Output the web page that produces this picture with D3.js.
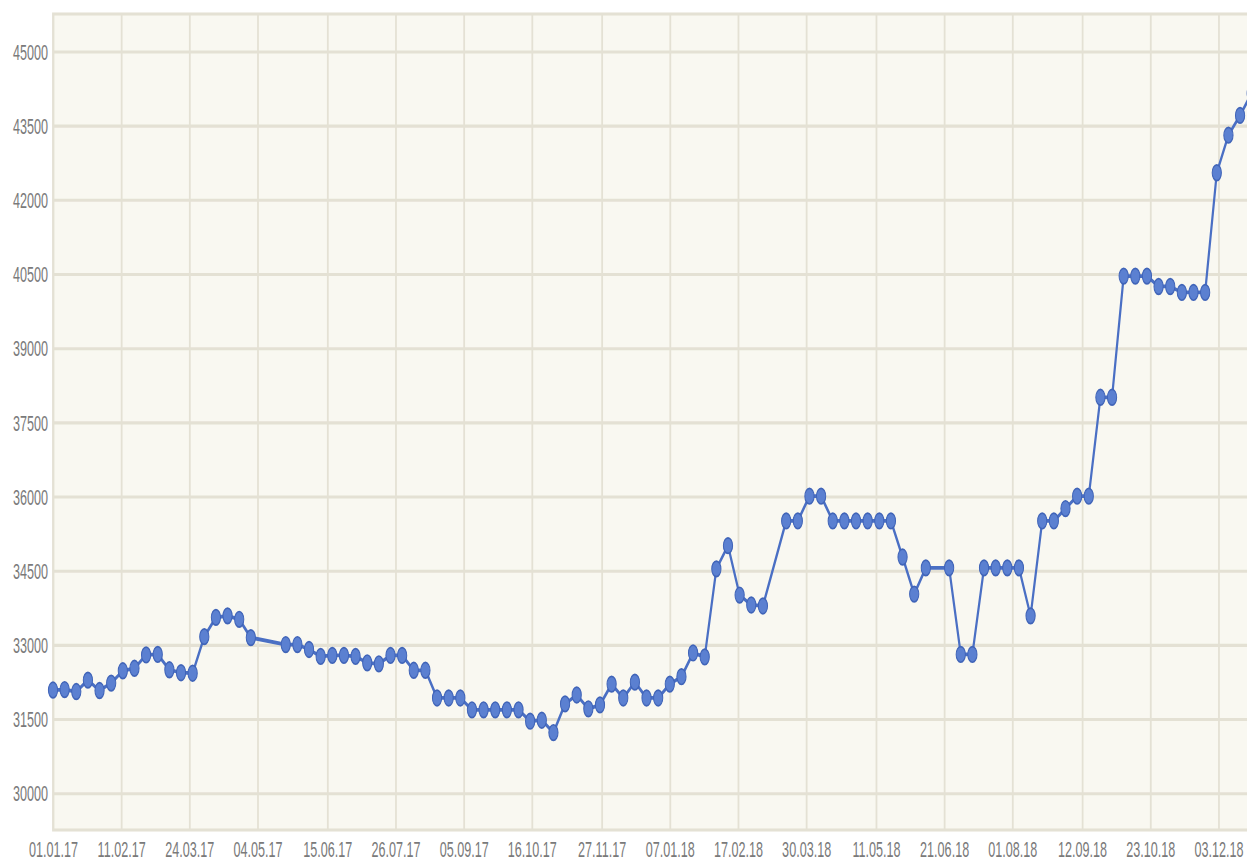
<!DOCTYPE html>
<html>
<head>
<meta charset="utf-8">
<script src="https://cdn.jsdelivr.net/npm/d3@7"></script>
<style>
  html, body { margin: 0; padding: 0; background: #ffffff; }
  svg { display: block; }
  .tick-label { font-family: "Liberation Sans", Arial, sans-serif; font-size: 12.6px; fill: #7a7a7a; }
</style>
</head>
<body>
<div id="chart"></div>
<script>
// weekly observations (dd.mm.yy); a few weeks are absent in the source
var dates = [
    "01.01.17", "08.01.17", "15.01.17", "22.01.17", "29.01.17", "05.02.17", "12.02.17", "19.02.17",
    "26.02.17", "05.03.17", "12.03.17", "19.03.17", "26.03.17", "02.04.17", "09.04.17", "16.04.17",
    "23.04.17", "30.04.17", "21.05.17", "28.05.17", "04.06.17", "11.06.17", "18.06.17", "25.06.17",
    "02.07.17", "09.07.17", "16.07.17", "23.07.17", "30.07.17", "06.08.17", "13.08.17", "20.08.17",
    "27.08.17", "03.09.17", "10.09.17", "17.09.17", "24.09.17", "01.10.17", "08.10.17", "15.10.17",
    "22.10.17", "29.10.17", "05.11.17", "12.11.17", "19.11.17", "26.11.17", "03.12.17", "10.12.17",
    "17.12.17", "24.12.17", "31.12.17", "07.01.18", "14.01.18", "21.01.18", "28.01.18", "04.02.18",
    "11.02.18", "18.02.18", "25.02.18", "04.03.18", "18.03.18", "25.03.18", "01.04.18", "08.04.18",
    "15.04.18", "22.04.18", "29.04.18", "06.05.18", "13.05.18", "20.05.18", "27.05.18", "03.06.18",
    "10.06.18", "24.06.18", "01.07.18", "08.07.18", "15.07.18", "22.07.18", "29.07.18", "05.08.18",
    "12.08.18", "19.08.18", "26.08.18", "02.09.18", "09.09.18", "16.09.18", "23.09.18", "30.09.18",
    "07.10.18", "14.10.18", "21.10.18", "28.10.18", "04.11.18", "11.11.18", "18.11.18", "25.11.18",
    "02.12.18", "09.12.18", "16.12.18", "23.12.18"
];

var values = [
    32080, 32090, 32050, 32280, 32070, 32220, 32470, 32520,
    32790, 32800, 32490, 32430, 32420, 33160, 33550, 33580,
    33510, 33140, 33000, 33000, 32900, 32760, 32780, 32780,
    32760, 32630, 32610, 32780, 32780, 32480, 32480, 31920,
    31920, 31920, 31680, 31680, 31680, 31680, 31680, 31450,
    31470, 31220, 31800, 31980, 31700, 31780, 32200, 31920,
    32240, 31920, 31920, 32200, 32350, 32830, 32750, 34530,
    35000, 34000, 33800, 33780, 35500, 35500, 36000, 36000,
    35500, 35500, 35500, 35500, 35500, 35500, 34770, 34020,
    34550, 34550, 32800, 32800, 34550, 34550, 34550, 34550,
    33580, 35500, 35500, 35750, 36000, 36000, 38000, 38000,
    40450, 40450, 40450, 40240, 40240, 40120, 40120, 40120,
    42540, 43300, 43700, 44150
];

var xTickLabels = [
    "01.01.17", "11.02.17", "24.03.17", "04.05.17", "15.06.17", "26.07.17",
    "05.09.17", "16.10.17", "27.11.17", "07.01.18", "17.02.18", "30.03.18",
    "11.05.18", "21.06.18", "01.08.18", "12.09.18", "23.10.18", "03.12.18"
];

var yTicks = [30000, 31500, 33000, 34500, 36000, 37500, 39000, 40500, 42000, 43500, 45000];

var width = 1247;
var height = 861;
var stretch = 1.7;              // the source picture is squashed sideways

var plotLeft = 53;
var plotTop = 14 / stretch;
var plotBottom = 830 / stretch;
var plotRight = 1265;
var labelBase = 857.5 / stretch;

var parseDate = d3.timeParse("%d.%m.%y");

var x = d3.scaleTime()
    .domain([parseDate("01.01.17"), parseDate("31.12.18")])
    .range([plotLeft, plotRight]);

var y = d3.scaleLinear()
    .domain([29250, 45750])
    .range([plotBottom, plotTop]);

var points = dates.map(function (d, i) {
    return { date: parseDate(d), value: values[i] };
});

var svg = d3.select("#chart").append("svg")
    .attr("width", width)
    .attr("height", height);

var g = svg.append("g")
    .attr("transform", "scale(1," + stretch + ")");

g.append("rect")
    .attr("x", plotLeft)
    .attr("y", plotTop)
    .attr("width", plotRight - plotLeft)
    .attr("height", plotBottom - plotTop)
    .attr("fill", "#f9f8f1")
    .attr("stroke", "#e4e1d4")
    .attr("stroke-width", 1.8);

// vertical grid + bottom labels
var xAxis = d3.axisBottom(x)
    .tickValues(xTickLabels.map(parseDate))
    .tickFormat(d3.timeFormat("%d.%m.%y"))
    .tickSize(-(plotBottom - plotTop))
    .tickPadding(0);

var xg = g.append("g")
    .attr("transform", "translate(0," + plotBottom + ")")
    .call(xAxis);
xg.select(".domain").remove();
xg.selectAll(".tick line").attr("stroke", "#e4e1d4").attr("stroke-width", 1.8);
xg.selectAll(".tick text")
    .attr("class", "tick-label")
    .attr("y", labelBase - plotBottom)
    .attr("dy", null)
    .attr("font-family", null)
    .attr("font-size", null)
    .attr("fill", null);

// horizontal grid + left labels
var yAxis = d3.axisLeft(y)
    .tickValues(yTicks)
    .tickFormat(d3.format("d"))
    .tickSize(-(plotRight - plotLeft))
    .tickPadding(5);

var yg = g.append("g")
    .attr("transform", "translate(" + plotLeft + ",0)")
    .call(yAxis);
yg.select(".domain").remove();
yg.selectAll(".tick line").attr("stroke", "#e4e1d4").attr("stroke-width", 1.8);
yg.selectAll(".tick text")
    .attr("class", "tick-label")
    .attr("dy", "0.36em")
    .attr("font-family", null)
    .attr("font-size", null)
    .attr("fill", null);

var line = d3.line()
    .x(function (d) { return x(d.date); })
    .y(function (d) { return y(d.value); });

g.append("path")
    .datum(points)
    .attr("d", line)
    .attr("fill", "none")
    .attr("stroke", "#4a6fc4")
    .attr("stroke-width", 2.2)
    .attr("stroke-linejoin", "round");

g.selectAll("circle.pt")
    .data(points)
    .enter().append("circle")
    .attr("class", "pt")
    .attr("cx", function (d) { return x(d.date); })
    .attr("cy", function (d) { return y(d.value); })
    .attr("r", 4.6)
    .attr("fill", "#5b80d1")
    .attr("stroke", "#4064b8")
    .attr("stroke-width", 1);
</script>
</body>
</html>
